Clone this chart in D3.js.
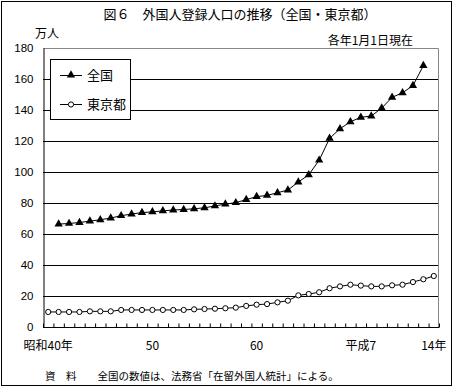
<!DOCTYPE html>
<html>
<head>
<meta charset="utf-8">
<script src="https://cdn.jsdelivr.net/npm/d3@7"></script>
<style>
  body { margin: 0; background: #fff; }
  text { font-family: "Noto Sans CJK JP", sans-serif; fill: #000; }
</style>
</head>
<body>
<svg id="chart" width="456" height="388"></svg>
<script>
// 各年1月1日現在, 単位: 万人
let years = [1965, 1966, 1967, 1968, 1969, 1970, 1971, 1972, 1973, 1974,
    1975, 1976, 1977, 1978, 1979, 1980, 1981, 1982, 1983, 1984,
    1985, 1986, 1987, 1988, 1989, 1990, 1991, 1992, 1993, 1994,
    1995, 1996, 1997, 1998, 1999, 2000, 2001, 2002]

let zenkoku = [null, 66.4, 66.8, 67.4, 68.3, 69.2, 70.3, 71.8, 72.9, 73.8,
    74.3, 74.9, 75.5, 75.8, 76.3, 76.9, 78.1, 79.3, 80.2, 82.2,
    84.1, 84.9, 86.6, 88.4, 93.5, 98.2, 107.6, 121.7, 127.9, 132.4,
    135.3, 136.1, 141.2, 148.2, 151.1, 155.7, 168.6, null]

let tokyo = [9.7, 9.7, 9.7, 9.7, 10.1, 10.1, 10.1, 11.0, 11.0, 11.0,
    11.0, 11.0, 11.0, 11.0, 11.4, 11.6, 11.8, 12.1, 12.5, 13.6,
    14.4, 14.8, 15.9, 17.0, 20.4, 21.3, 22.4, 25.0, 26.2, 27.3,
    26.7, 26.2, 26.2, 26.9, 27.3, 29.0, 30.8, 32.9]

let xLabelYears = [1965, 1975, 1985, 1995, 2002]
let xLabelText = ['昭和40年', '50', '60', '平成7', '14年']
let yTicks = [0, 20, 40, 60, 80, 100, 120, 140, 160, 180]

let svg = d3.select('#chart')

// outer frame
svg.append('rect')
    .attr('x', 1.5).attr('y', 1.5)
    .attr('width', 450).attr('height', 384)
    .attr('fill', 'none')
    .attr('stroke', '#000')

svg.append('text')
    .attr('x', 240).attr('y', 19)
    .attr('text-anchor', 'middle')
    .style('font-size', '13px')
    .text('図６　外国人登録人口の推移（全国・東京都）')

svg.append('text')
    .attr('x', 35).attr('y', 38)
    .style('font-size', '12px')
    .text('万人')

svg.append('text')
    .attr('x', 413).attr('y', 45)
    .attr('text-anchor', 'end')
    .style('font-size', '12px')
    .text('各年1月1日現在')

const plotL = 43, plotR = 439, plotT = 48, plotB = 327

let x = d3.scaleBand()
    .domain(years)
    .range([plotL, plotR])
let cx = d => x(d) + x.bandwidth() / 2

let xEdge = d3.scaleLinear()
    .domain([0, years.length])
    .range([plotL, plotR])

let y = d3.scaleLinear()
    .domain([0, 180])
    .range([plotB, plotT])

// gridlines
svg.append('g')
    .selectAll('line')
    .data(yTicks.filter(t => t > 0 && t < 180))
    .enter()
    .append('line')
    .attr('x1', plotL).attr('x2', plotR)
    .attr('y1', t => y(t) + 0.5).attr('y2', t => y(t) + 0.5)
    .attr('stroke', '#000')

// plot border (top / right in grey)
svg.append('path')
    .attr('d', `M${plotL},${y(180) + 0.5}H${plotR - 0.5}V${plotB}`)
    .attr('fill', 'none')
    .attr('stroke', '#888')

// y axis
let yAxis = svg.append('g')
    .attr('transform', `translate(${plotL + 0.5},0)`)
    .call(d3.axisLeft(y).tickValues(yTicks).tickSize(0).tickPadding(10))
yAxis.select('.domain').attr('stroke', '#000')
yAxis.selectAll('text')
    .style('font-family', 'Arial, "Liberation Sans", sans-serif')
    .style('font-size', '11.5px')

// x axis with inward ticks at category edges
let xAxis = svg.append('g')
    .attr('transform', `translate(0,${plotB + 0.5})`)
    .call(d3.axisBottom(xEdge).ticks(years.length).tickSize(-4).tickFormat(''))
xAxis.select('.domain').attr('d', `M${plotL},0H${plotR}`).attr('stroke', '#000')
xAxis.selectAll('.tick line').attr('stroke', '#000')

svg.append('g')
    .selectAll('text')
    .data(xLabelYears)
    .enter()
    .append('text')
    .attr('x', d => cx(d))
    .attr('y', 350)
    .attr('text-anchor', 'middle')
    .style('font-size', '12px')
    .text((d, i) => xLabelText[i])

// series
let line = d3.line()
    .defined(d => d.v !== null)
    .x(d => cx(d.year))
    .y(d => y(d.v))

let zData = years.map((yr, i) => ({ year: yr, v: zenkoku[i] }))
let tData = years.map((yr, i) => ({ year: yr, v: tokyo[i] }))

svg.append('path')
    .datum(tData)
    .attr('d', line)
    .attr('fill', 'none')
    .attr('stroke', '#000')

svg.append('g')
    .selectAll('circle')
    .data(tData)
    .enter()
    .append('circle')
    .attr('cx', d => cx(d.year))
    .attr('cy', d => y(d.v))
    .attr('r', 2.6)
    .attr('fill', '#fff')
    .attr('stroke', '#000')

svg.append('path')
    .datum(zData)
    .attr('d', line)
    .attr('fill', 'none')
    .attr('stroke', '#000')

let tri = d3.symbol().type(d3.symbolTriangle).size(30)

svg.append('g')
    .selectAll('path')
    .data(zData.filter(d => d.v !== null))
    .enter()
    .append('path')
    .attr('d', tri)
    .attr('transform', d => `translate(${cx(d.year)},${y(d.v)})`)
    .attr('fill', '#000')

// legend
let legend = svg.append('g')
legend.append('rect')
    .attr('x', 50.5).attr('y', 59.5)
    .attr('width', 80).attr('height', 60)
    .attr('fill', '#fff')
    .attr('stroke', '#000')

let legendItems = [
    { name: '全国', ly: 75, mark: 'tri' },
    { name: '東京都', ly: 104, mark: 'circle' }
]
legendItems.forEach(item => {
    legend.append('line')
        .attr('x1', 60).attr('x2', 82)
        .attr('y1', item.ly + 0.5).attr('y2', item.ly + 0.5)
        .attr('stroke', '#000')
    if (item.mark === 'tri') {
        legend.append('path')
            .attr('d', tri)
            .attr('transform', `translate(71,${item.ly})`)
            .attr('fill', '#000')
    } else {
        legend.append('circle')
            .attr('cx', 71).attr('cy', item.ly + 0.5)
            .attr('r', 2.6)
            .attr('fill', '#fff')
            .attr('stroke', '#000')
    }
    legend.append('text')
        .attr('x', 87).attr('y', item.ly + 5)
        .style('font-size', '13px')
        .text(item.name)
})

svg.append('text')
    .attr('x', 45).attr('y', 380)
    .style('font-size', '10.5px')
    .text('資　料　　全国の数値は、法務省「在留外国人統計」による。')
</script>
</body>
</html>
